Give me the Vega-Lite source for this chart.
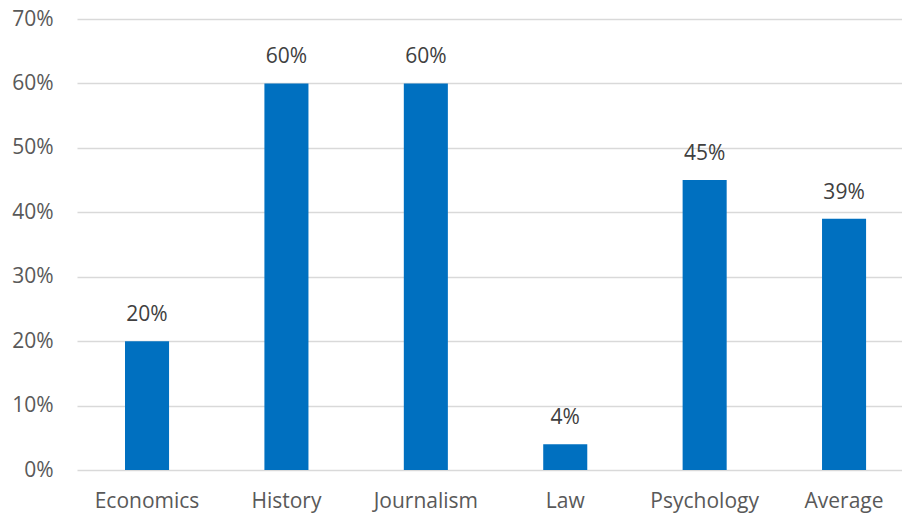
{
  "$schema": "https://vega.github.io/schema/vega-lite/v6.json",
  "autosize": "none",
  "width": 825,
  "height": 451,
  "padding": {"left": 77, "top": 19, "right": 0, "bottom": 46},
  "background": "white",
  "config": {"view": {"stroke": null}, "font": "Open Sans"},
  "data": {"values": [
    {"subject": "Economics", "share": 0.20, "label": "20%"},
    {"subject": "History", "share": 0.60, "label": "60%"},
    {"subject": "Journalism", "share": 0.60, "label": "60%"},
    {"subject": "Law", "share": 0.04, "label": "4%"},
    {"subject": "Psychology", "share": 0.45, "label": "45%"},
    {"subject": "Average", "share": 0.39, "label": "39%"}
  ]},
  "encoding": {
    "x": {
      "field": "subject", "type": "nominal", "sort": null,
      "scale": {"paddingInner": 0.684, "paddingOuter": 0.301, "align": 0.572},
      "axis": {"title": null, "labelAngle": 0, "labelFont": "Open Sans", "labelFontSize": 21, "labelColor": "#595959", "labelPadding": 20, "ticks": false, "domain": false, "grid": false}
    },
    "y": {
      "field": "share", "type": "quantitative",
      "scale": {"domain": [0, 0.7], "nice": false},
      "axis": {"title": null, "format": ".0%", "values": [0, 0.1, 0.2, 0.3, 0.4, 0.5, 0.6, 0.7], "labelFont": "Open Sans", "labelFontSize": 21, "labelColor": "#595959", "labelPadding": 24, "ticks": false, "domain": false, "grid": true, "gridColor": "#d9d9d9", "gridWidth": 1.5}
    }
  },
  "layer": [
    {"mark": {"type": "bar", "color": "#0070C0"}},
    {"mark": {"type": "text", "font": "Open Sans", "fontSize": 21, "color": "#404040", "baseline": "alphabetic", "dy": -20},
     "encoding": {"text": {"field": "label"}}}
  ]
}
